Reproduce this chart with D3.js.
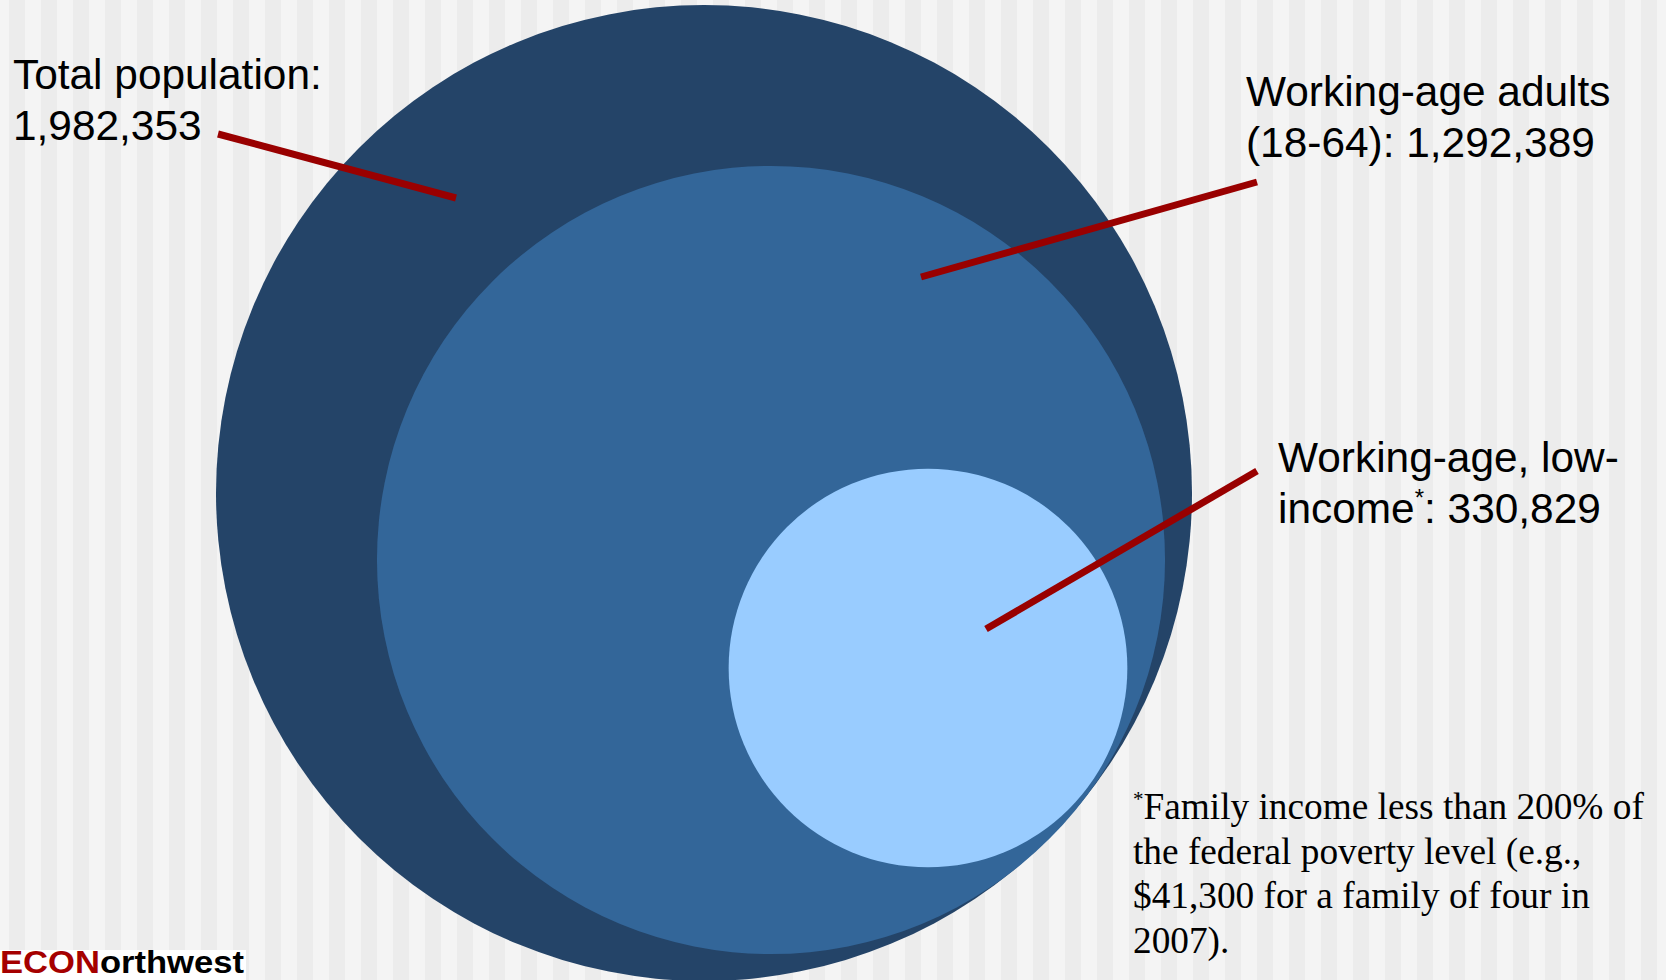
<!DOCTYPE html>
<html>
<head>
<meta charset="utf-8">
<script src="https://cdn.jsdelivr.net/npm/d3@7"></script>
<style>
  html, body { margin: 0; padding: 0; background: #f4f4f4; }
  svg { display: block; }
</style>
</head>
<body>
<svg id="chart" width="1666" height="980"></svg>
<script>
// ---- data ----
const categories = ["Total population", "Working-age adults (18-64)", "Working-age, low-income"];
const values = [1982353, 1292389, 330829];
const labelLines = [
  ["Total population:", "1,982,353"],
  ["Working-age adults", "(18-64): 1,292,389"],
  ["Working-age, low-", "income", ": 330,829"]
];
const footnoteLines = ["Family income less than 200% of", "the federal poverty level (e.g.,", "$41,300 for a family of four in", "2007)."];
const brand = ["ECON", "orthwest"];

// ---- layout ----
const W = 1666, H = 980;
const svg = d3.select("#chart");
const colors = ["#244468", "#336699", "#99ccff"];
const centers = [[704, 493], [771, 560], [928, 668]];

// background stripes
const defs = svg.append("defs");
const pat = defs.append("pattern").attr("id", "stripes").attr("patternUnits", "userSpaceOnUse")
  .attr("width", 32).attr("height", 10).attr("x", 9);
pat.append("rect").attr("width", 32).attr("height", 10).attr("fill", "#f4f4f4");
pat.append("rect").attr("width", 16).attr("height", 10).attr("fill", "#ececec");
svg.append("rect").attr("width", W).attr("height", H).attr("fill", "url(#stripes)");

// radius scale (area proportional to value)
const r = d3.scaleSqrt().domain([0, d3.max(values)]).range([0, 488]);

svg.append("g").selectAll("circle").data(values).join("circle")
  .attr("cx", (d, i) => centers[i][0])
  .attr("cy", (d, i) => centers[i][1])
  .attr("r", d => r(d))
  .attr("fill", (d, i) => colors[i]);

// leader lines
const leaders = [
  [[218, 134], [456, 198]],
  [[1257, 182], [921, 277]],
  [[1257, 471], [986, 629]]
];
svg.append("g").selectAll("line").data(leaders).join("line")
  .attr("x1", d => d[0][0]).attr("y1", d => d[0][1])
  .attr("x2", d => d[1][0]).attr("y2", d => d[1][1])
  .attr("stroke", "#990000").attr("stroke-width", 7);

// labels
const font = "'Liberation Sans', Arial, sans-serif";
const labelPos = [[13, 89], [1246, 106], [1278, 472]];
const lh = 51;
labelLines.forEach((lines, i) => {
  const t = svg.append("text").attr("font-family", font).attr("font-size", 42.4).attr("fill", "#000");
  if (i < 2) {
    lines.forEach((s, j) => t.append("tspan").attr("x", labelPos[i][0]).attr("y", labelPos[i][1] + j * lh).text(s));
  } else {
    t.append("tspan").attr("x", labelPos[i][0]).attr("y", labelPos[i][1]).text(lines[0]);
    t.append("tspan").attr("x", labelPos[i][0]).attr("y", labelPos[i][1] + lh).text(lines[1]);
    t.append("tspan").attr("font-size", 24).attr("dy", -17).text("*");
    t.append("tspan").attr("dy", 17).text(lines[2]);
  }
});

// footnote
const serif = "'Liberation Serif', 'Times New Roman', serif";
const fn = svg.append("text").attr("font-family", serif).attr("font-size", 37.3).attr("fill", "#000");
fn.append("tspan").attr("x", 1133).attr("y", 806).attr("font-size", 21).text("*");
fn.append("tspan").attr("y", 819).text(footnoteLines[0]);
footnoteLines.slice(1).forEach((s, j) => {
  fn.append("tspan").attr("x", 1133).attr("y", 819 + (j + 1) * 44.7).text(s);
});

// brand logo
svg.append("rect").attr("x", 0).attr("y", 950).attr("width", 246).attr("height", 30).attr("fill", "#fff");
const logo = svg.append("text").attr("x", 0).attr("y", 973)
  .attr("font-family", "'Liberation Sans Narrow', 'Liberation Sans', Arial, sans-serif")
  .attr("font-weight", "bold").attr("font-size", 31)
  .attr("textLength", 244).attr("lengthAdjust", "spacingAndGlyphs");
logo.append("tspan").attr("fill", "#a50000").text(brand[0]);
logo.append("tspan").attr("fill", "#000").text(brand[1]);
</script>
</body>
</html>
